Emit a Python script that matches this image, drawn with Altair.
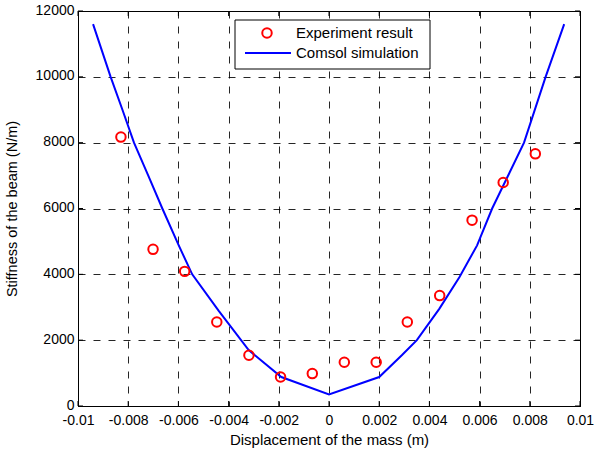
import altair as alt
import pandas as pd

# ---- data ----
exp_x = [-0.00829, -0.00701, -0.00575, -0.00447, -0.00319, -0.00193, -0.000665,
         0.00061, 0.00188, 0.00312, 0.00441, 0.0057, 0.00694, 0.00822]
exp_y = [8170, 4760, 4090, 2550, 1540, 880, 985, 1330, 1330, 2550, 3355, 5645, 6790, 7660]

sim_x = [-0.0094, -0.0087, -0.00823, -0.00777, -0.0072, -0.00664, -0.006, -0.00545,
         -0.0044, -0.0032, -0.0019, 0.0, 0.002, 0.0029, 0.0035, 0.0044, 0.0052,
         0.0059, 0.0065, 0.0072, 0.00777, 0.00863, 0.00937]
sim_y = [11600, 10000, 9000, 8000, 7000, 6000, 4900, 4000, 2900, 1700, 880, 350,
         880, 1540, 2000, 2960, 3920, 4880, 6000, 7100, 8000, 10000, 11600]

x_ticks = [-0.01, -0.008, -0.006, -0.004, -0.002, 0.0, 0.002, 0.004, 0.006, 0.008, 0.01]
y_ticks = [0, 2000, 4000, 6000, 8000, 10000, 12000]
legend_labels = ["Experiment result", "Comsol simulation"]
x_title = "Displacement of the mass (m)"
y_title = "Stiffness of the beam (N/m)"

W, H = 502, 395
FONT = "Liberation Sans"

exp_df = pd.DataFrame({"x": exp_x, "y": exp_y})
sim_df = pd.DataFrame({"x": sim_x, "y": sim_y})
xt_df = pd.DataFrame({"x": x_ticks})
yt_df = pd.DataFrame({"y": y_ticks})

xscale = alt.Scale(domain=[-0.01, 0.01], nice=False, zero=False)
yscale = alt.Scale(domain=[0, 12000], nice=False, zero=False)

xaxis = alt.Axis(values=x_ticks, title=x_title,
                 labelExpr="replace(format(datum.value, '~g'), '\u2212', '-')",
                 grid=True, gridDash=[7, 8], gridColor="#000", gridOpacity=0.85,
                 tickSize=0, labelPadding=7, titlePadding=5,
                 labelFontSize=14, titleFontSize=15, labelFont=FONT, titleFont=FONT,
                 titleFontWeight="normal", labelColor="#000", titleColor="#000",
                 domainColor="#000", labelFlush=False)
yaxis = alt.Axis(values=y_ticks, title=y_title, format="d",
                 grid=True, gridDash=[7, 8], gridColor="#000", gridOpacity=0.85,
                 tickSize=0, labelPadding=4, titlePadding=16, labelOffset=-1,
                 labelFontSize=14, titleFontSize=14.5, labelFont=FONT, titleFont=FONT,
                 titleFontWeight="normal", labelColor="#000", titleColor="#000",
                 domainColor="#000", labelFlush=False)

line = alt.Chart(sim_df).mark_line(color="#0000FF", strokeWidth=2, clip=True).encode(
    x=alt.X("x:Q", scale=xscale, axis=xaxis),
    y=alt.Y("y:Q", scale=yscale, axis=yaxis),
)
pts = alt.Chart(exp_df).mark_point(shape="circle", filled=False, color="#FF0000",
                                   strokeWidth=2, size=90, opacity=1).encode(
    x=alt.X("x:Q", scale=xscale),
    y=alt.Y("y:Q", scale=yscale),
)

# inward ticks on all four sides
tick_style = dict(color="#000", strokeWidth=1)
tb = alt.Chart(xt_df).mark_rule(**tick_style).encode(
    x=alt.X("x:Q", scale=xscale), y=alt.value(H), y2=alt.value(H - 5))
tt = alt.Chart(xt_df).mark_rule(**tick_style).encode(
    x=alt.X("x:Q", scale=xscale), y=alt.value(0), y2=alt.value(5))
tl = alt.Chart(yt_df).mark_rule(**tick_style).encode(
    y=alt.Y("y:Q", scale=yscale), x=alt.value(0), x2=alt.value(5))
tr = alt.Chart(yt_df).mark_rule(**tick_style).encode(
    y=alt.Y("y:Q", scale=yscale), x=alt.value(W), x2=alt.value(W - 5))

# manual legend (MATLAB style box)
one = pd.DataFrame({"k": [0]})
lg_box = alt.Chart(one).mark_rect(fill="white", stroke="#000", strokeWidth=1).encode(
    x=alt.value(157), x2=alt.value(352), y=alt.value(9), y2=alt.value(58))
lg_pt = alt.Chart(one).mark_point(shape="circle", filled=False, color="#FF0000",
                                  strokeWidth=2, size=90, opacity=1).encode(
    x=alt.value(189), y=alt.value(22))
lg_ln = alt.Chart(one).mark_rule(color="#0000FF", strokeWidth=2).encode(
    x=alt.value(167), x2=alt.value(213), y=alt.value(42))
lg_t1 = alt.Chart(pd.DataFrame({"t": [legend_labels[0]]})).mark_text(
    align="left", baseline="middle", font=FONT, fontSize=15, color="#000").encode(
    x=alt.value(218), y=alt.value(22), text="t:N")
lg_t2 = alt.Chart(pd.DataFrame({"t": [legend_labels[1]]})).mark_text(
    align="left", baseline="middle", font=FONT, fontSize=15, color="#000").encode(
    x=alt.value(218), y=alt.value(42), text="t:N")

chart = alt.layer(line, pts, tb, tt, tl, tr, lg_box, lg_pt, lg_ln, lg_t1, lg_t2).properties(
    width=W, height=H,
    autosize=alt.AutoSizeParams(type="none"),
    padding={"left": 78, "top": 11, "right": 14, "bottom": 43},
    background="white",
).configure_view(stroke="#000", strokeWidth=1)

chart.save("out.html", embed_options={"renderer": "svg", "actions": False})
